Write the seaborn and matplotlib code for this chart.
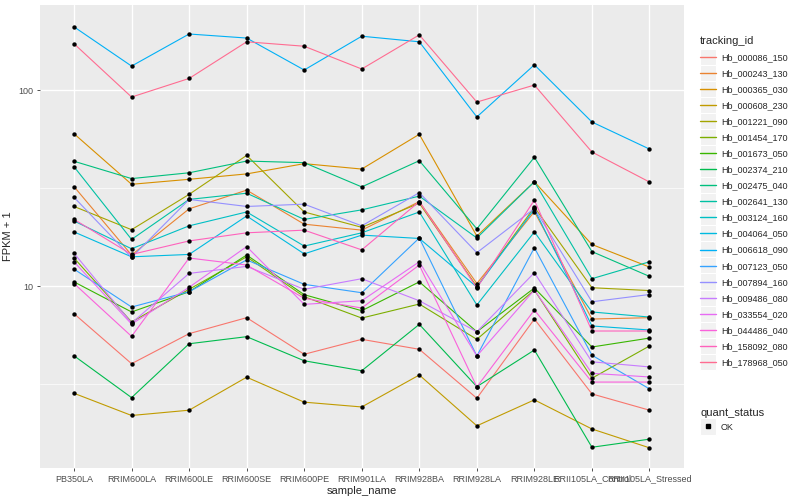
import pandas as pd
import matplotlib
matplotlib.use("Agg")
import matplotlib.pyplot as plt
from matplotlib.lines import Line2D
from matplotlib.patches import Rectangle
from matplotlib.legend_handler import HandlerLine2D
import seaborn as sns

# samples on the x axis
samples = ['PB350LA', 'RRIM600LA', 'RRIM600LE', 'RRIM600SE', 'RRIM600PE', 'RRIM901LA',
           'RRIM928BA', 'RRIM928LA', 'RRIM928LE', 'RRII105LA_Control', 'RRII105LA_Stressed']

# FPKM + 1 per gene
hb_000086_150 = [7.22, 4.01, 5.71, 6.89, 4.48, 5.34, 4.75, 2.67, 6.78, 2.81, 2.32]
hb_000243_130 = [32.2, 14.4, 24.8, 30.9, 20.7, 19.3, 27.0, 10.3, 24.0, 6.78, 6.89]
hb_000365_030 = [60.0, 33.1, 35.1, 37.4, 42.2, 39.6, 59.6, 18.0, 34.1, 16.3, 12.5]
hb_000608_230 = [2.83, 2.18, 2.32, 3.42, 2.55, 2.41, 3.51, 1.93, 2.62, 1.86, 1.49]
hb_001221_090 = [25.5, 19.4, 29.4, 46.5, 23.9, 19.95, 26.5, 9.92, 25.3, 9.80, 9.48]
hb_001454_170 = [13.9, 6.55, 9.62, 14.1, 8.82, 6.86, 8.09, 5.34, 9.54, 3.38, 4.94]
hb_001673_050 = [10.5, 7.37, 9.35, 14.4, 9.03, 7.48, 10.5, 5.84, 9.77, 4.88, 5.42]
hb_002374_210 = [4.40, 2.69, 5.07, 5.51, 4.15, 3.69, 6.37, 3.06, 4.71, 1.50, 1.65]
hb_002475_040 = [43.4, 35.4, 37.9, 43.5, 42.7, 32.1, 43.7, 19.6, 45.5, 15.0, 11.2]
hb_002641_130 = [40.7, 17.3, 27.7, 29.8, 21.9, 24.5, 28.8, 17.6, 34.1, 10.9, 13.3]
hb_003124_160 = [21.5, 15.5, 20.3, 23.9, 16.0, 18.7, 23.9, 8.00, 18.9, 7.37, 6.94]
hb_004064_050 = [18.9, 14.1, 14.5, 22.8, 14.6, 18.2, 17.5, 9.88, 24.7, 6.25, 5.96]
hb_006618_090 = [211, 133, 194, 185, 127, 189, 177, 73.1, 135, 68.9, 50.1]
hb_007123_050 = [12.2, 7.81, 9.35, 13.6, 10.2, 9.24, 17.6, 4.39, 15.7, 4.43, 2.98]
hb_007894_160 = [28.4, 14.0, 27.7, 25.5, 26.2, 20.3, 30.0, 14.8, 24.9, 8.31, 9.05]
hb_009486_080 = [14.7, 6.47, 11.6, 12.6, 9.62, 10.9, 8.41, 5.84, 11.7, 4.10, 3.86]
hb_033554_020 = [13.3, 6.39, 9.85, 15.9, 8.06, 8.41, 13.3, 4.39, 9.54, 3.58, 3.43]
hb_044486_040 = [10.3, 5.53, 13.9, 12.8, 8.65, 7.72, 12.8, 3.05, 7.54, 3.23, 3.23]
hb_158092_080 = [21.9, 14.5, 17.0, 18.7, 19.3, 15.3, 27.0, 9.77, 27.5, 5.89, 5.89]
hb_178968_050 = [173, 92.4, 115, 177, 168, 128.5, 192, 87.1, 106.4, 48.4, 34.0]

genes = {
    'Hb_000086_150': hb_000086_150, 'Hb_000243_130': hb_000243_130,
    'Hb_000365_030': hb_000365_030, 'Hb_000608_230': hb_000608_230,
    'Hb_001221_090': hb_001221_090, 'Hb_001454_170': hb_001454_170,
    'Hb_001673_050': hb_001673_050, 'Hb_002374_210': hb_002374_210,
    'Hb_002475_040': hb_002475_040, 'Hb_002641_130': hb_002641_130,
    'Hb_003124_160': hb_003124_160, 'Hb_004064_050': hb_004064_050,
    'Hb_006618_090': hb_006618_090, 'Hb_007123_050': hb_007123_050,
    'Hb_007894_160': hb_007894_160, 'Hb_009486_080': hb_009486_080,
    'Hb_033554_020': hb_033554_020, 'Hb_044486_040': hb_044486_040,
    'Hb_158092_080': hb_158092_080, 'Hb_178968_050': hb_178968_050,
}

# ggplot default hue palette for 20 groups
colors = ['#F8766D', '#EA8331', '#D89000', '#C09B00', '#A3A500', '#7CAE00', '#39B600',
          '#00BB4E', '#00BF7D', '#00C1A3', '#00BFC4', '#00BAE0', '#00B0F6', '#35A2FF',
          '#9590FF', '#C77CFF', '#E76BF3', '#FA62DB', '#FF62BC', '#FF6C91']

rows = []
for gid, vals in genes.items():
    for s, v in zip(samples, vals):
        rows.append({'tracking_id': gid, 'sample_name': s, 'fpkm': v, 'quant_status': 'OK'})
df = pd.DataFrame(rows)


# legend key with the grey ggplot-style box behind it
class KeyHandler(HandlerLine2D):
    def create_artists(self, legend, orig_handle, xdescent, ydescent, width, height,
                       fontsize, trans):
        side = width
        box = Rectangle((-xdescent, -ydescent + height / 2 - side / 2), side, side,
                        facecolor='#F2F2F2', edgecolor='white', linewidth=0.8,
                        transform=trans)
        arts = super().create_artists(legend, orig_handle, xdescent, ydescent, width,
                                      height, fontsize, trans)
        return [box] + arts


sns.set_theme(style="darkgrid", rc={'axes.facecolor': '#EBEBEB', 'grid.color': 'white'})
plt.rcParams['font.family'] = ['Liberation Sans', 'DejaVu Sans']

fig = plt.figure(figsize=(8, 5), dpi=100)
ax = fig.add_axes([39.5 / 800, 1 - 468.3 / 500, (684 - 39.5) / 800, (468.3 - 5) / 500])

sns.lineplot(data=df, x='sample_name', y='fpkm', hue='tracking_id', palette=colors,
             estimator=None, sort=False, linewidth=0.8, legend=False, ax=ax)
sns.scatterplot(data=df, x='sample_name', y='fpkm', color='black', s=10,
                linewidth=0, legend=False, ax=ax, zorder=5)

ax.set_yscale('log')
ax.set_ylim(1.171, 272.9)
ax.set_xlim(-0.6, 10.6)
ax.set_yticks([10, 100])
ax.set_yticklabels(['10', '100'])
ax.set_yticks([10 ** 0.5, 10 ** 1.5], minor=True)
ax.yaxis.set_minor_formatter(plt.NullFormatter())
ax.grid(True, which='major', color='white', linewidth=1.0)
ax.grid(True, which='minor', color='white', linewidth=0.5)
ax.set_axisbelow(True)
for sp in ax.spines.values():
    sp.set_visible(False)

ax.tick_params(axis='both', which='major', length=2.5, width=0.6, color='#333333',
               labelsize=6.5, labelcolor='#4D4D4D', pad=2, left=True, bottom=True)
ax.tick_params(axis='y', which='minor', length=0)
ax.set_xlabel('sample_name', fontsize=8, labelpad=2)
ax.set_ylabel('FPKM + 1', fontsize=8, labelpad=4)

# legends
line_handles = [Line2D([], [], color=c, linewidth=1.0) for c in colors]
leg1 = fig.legend(line_handles, list(genes.keys()), loc='upper left',
                  bbox_to_anchor=(692 / 800, 1 - 28 / 500), frameon=False,
                  title='tracking_id', fontsize=6.5, title_fontsize=8,
                  labelspacing=0.78, handlelength=1.8, handletextpad=0.5,
                  alignment='left', handler_map={Line2D: KeyHandler()})
pt = Line2D([], [], color='black', marker='s', linestyle='', markersize=2.5)
leg2 = fig.legend([pt], ['OK'], loc='upper left',
                  bbox_to_anchor=(692 / 800, 1 - 400 / 500), frameon=False,
                  title='quant_status', fontsize=6.5, title_fontsize=8,
                  handlelength=1.8, handletextpad=0.5, alignment='left',
                  handler_map={Line2D: KeyHandler()})

fig.savefig('out.png', dpi=100)
